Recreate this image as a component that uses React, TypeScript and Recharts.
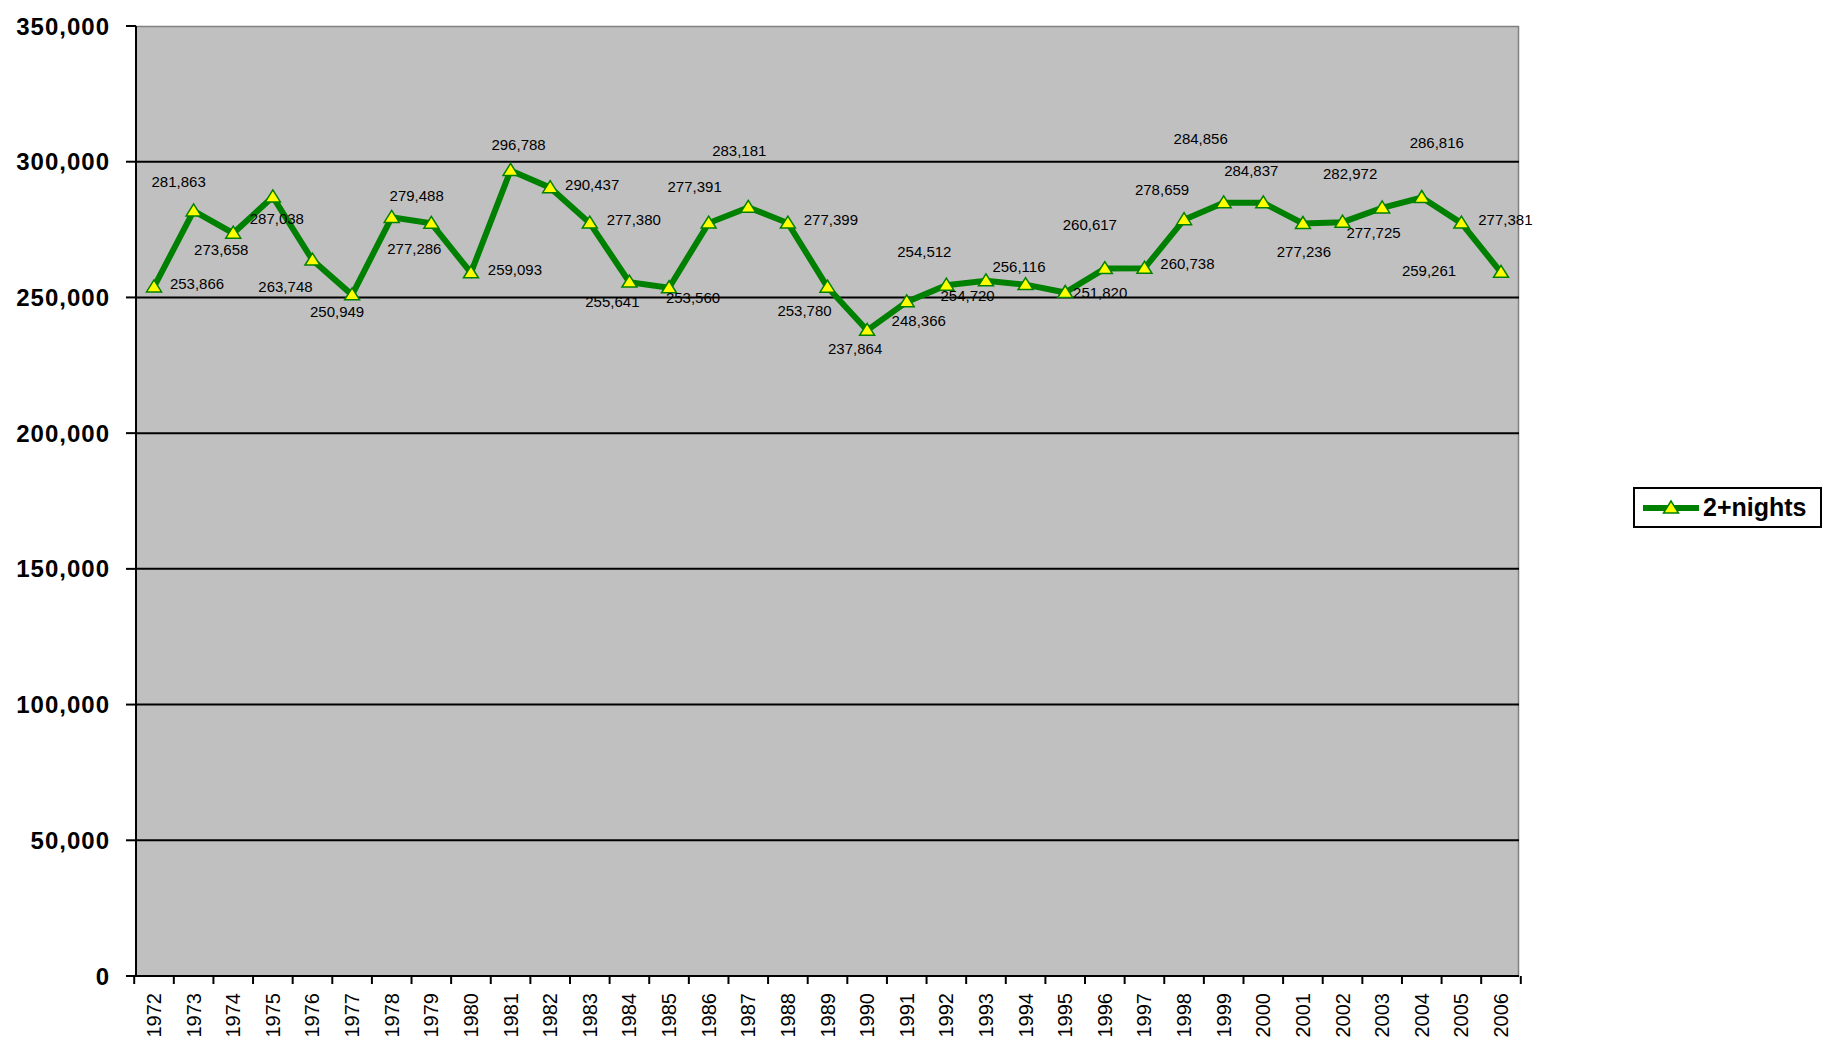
import {
  LineChart,
  Line,
  XAxis,
  YAxis,
  CartesianGrid,
  ReferenceLine,
  LabelList,
} from "recharts";

const YEARS = [
  "1972", "1973", "1974", "1975", "1976", "1977", "1978", "1979", "1980",
  "1981", "1982", "1983", "1984", "1985", "1986", "1987", "1988", "1989",
  "1990", "1991", "1992", "1993", "1994", "1995", "1996", "1997", "1998",
  "1999", "2000", "2001", "2002", "2003", "2004", "2005", "2006",
];

const NIGHTS = [
  253866, 281863, 273658, 287038, 263748, 250949, 279488, 277286, 259093,
  296788, 290437, 277380, 255641, 253560, 277391, 283181, 277399, 253780,
  237864, 248366, 254512, 256116, 254720, 251820, 260617, 260738, 278659,
  284856, 284837, 277236, 277725, 282972, 286816, 277381, 259261,
];

const Y_TICKS = [0, 50000, 100000, 150000, 200000, 250000, 300000, 350000];
const GRID_LINES = [50000, 100000, 150000, 200000, 250000, 300000];

// where each value label sits relative to its point (the original has them scattered)
const LABEL_OFFSETS: [number, number][] = [
  [43, -3], [-15, -29], [-12, 16], [4, 22], [-27, 26], [-15, 17], [25, -22],
  [-17, 25], [44, -3], [8, -26], [42, -3], [44, -4], [-17, 19], [24, 10],
  [-14, -37], [-9, -57], [43, -4], [-23, 23], [-12, 18], [12, 19], [-22, -34],
  [33, -14], [-58, 11], [35, 0], [-15, -44], [43, -5], [-22, -30], [-23, -64],
  [-12, -32], [1, 28], [31, 10], [-32, -34], [15, -55], [44, -4], [-72, -2],
];

const data = YEARS.map((year, i) => ({ year, nights: NIGHTS[i] }));

const GREEN = "#008000";
const HALF_BAND = 19.8;
const FONT = "'Liberation Sans', Arial, sans-serif";

const fmt = (v: number) => v.toLocaleString("en-US");

function Triangle({ cx, cy }: { cx?: number; cy?: number }) {
  if (cx == null || cy == null) return null;
  return (
    <path
      d={`M${cx},${cy - 7} L${cx - 7.5},${cy + 5} L${cx + 7.5},${cy + 5} Z`}
      fill="#FFFF00"
      stroke={GREEN}
      strokeWidth={1.5}
    />
  );
}

function YearTick(props: any) {
  const { x, y, payload, index } = props;
  const last = index === YEARS.length - 1;
  return (
    <g>
      <line x1={x - HALF_BAND} y1={y} x2={x - HALF_BAND} y2={y + 8} stroke="#000" strokeWidth={2} />
      {last && (
        <line x1={x + HALF_BAND} y1={y} x2={x + HALF_BAND} y2={y + 8} stroke="#000" strokeWidth={2} />
      )}
      <text
        transform={`translate(${x},${y + 17}) rotate(-90)`}
        textAnchor="end"
        dominantBaseline="central"
        fontSize={20}
        fontFamily={FONT}
        fill="#000"
      >
        {payload.value}
      </text>
    </g>
  );
}

function ValueLabel(props: any) {
  const { x, y, index, value } = props;
  const [dx, dy] = LABEL_OFFSETS[index] || [0, -15];
  return (
    <text
      x={x + dx}
      y={y + dy}
      textAnchor="middle"
      dominantBaseline="central"
      fontSize={15}
      fontFamily={FONT}
      fill="#000"
    >
      {fmt(value)}
    </text>
  );
}

function LegendBox() {
  return (
    <div
      style={{
        position: "absolute",
        left: 1633,
        top: 487,
        boxSizing: "border-box",
        width: 189,
        height: 41,
        border: "2px solid #000",
        background: "#fff",
        display: "flex",
        alignItems: "center",
        paddingLeft: 6,
        fontFamily: FONT,
      }}
    >
      <svg width={60} height={20}>
        <line x1={2} y1={10} x2={58} y2={10} stroke={GREEN} strokeWidth={6} />
        <Triangle cx={30} cy={10} />
      </svg>
      <span style={{ fontSize: 25, fontWeight: "bold", marginLeft: 2, color: "#000" }}>
        2+nights
      </span>
    </div>
  );
}

export default function App() {
  return (
    <div style={{ position: "absolute", left: 0, top: 0, width: 1825, height: 1045, background: "#fff", fontFamily: FONT }}>
      <LineChart
        width={1825}
        height={1045}
        data={data}
        margin={{ top: 26, right: 306, bottom: 0, left: 0 }}
      >
        <CartesianGrid
          fill="#C0C0C0"
          stroke="#808080"
          strokeWidth={1.5}
          horizontalPoints={[26.5]}
          verticalPoints={[1518.5]}
        />
        {GRID_LINES.map((v) => (
          <ReferenceLine key={v} y={v} stroke="#000" strokeWidth={2} />
        ))}
        <XAxis
          dataKey="year"
          height={69}
          padding={{ left: 18, right: 18 }}
          interval={0}
          tickSize={0}
          tickMargin={0}
          tickLine={false}
          axisLine={{ stroke: "#000", strokeWidth: 2 }}
          tick={<YearTick />}
        />
        <YAxis
          width={136}
          domain={[0, 350000]}
          ticks={Y_TICKS}
          interval={0}
          tickFormatter={fmt}
          tickSize={10}
          tickMargin={16}
          axisLine={{ stroke: "#000", strokeWidth: 2 }}
          tickLine={{ stroke: "#000", strokeWidth: 2 }}
          tick={{ fontSize: 24, fontWeight: "bold", fill: "#000", fontFamily: FONT, letterSpacing: 1 }}
        />
        <Line
          type="linear"
          dataKey="nights"
          name="2+nights"
          stroke={GREEN}
          strokeWidth={6}
          isAnimationActive={false}
          dot={(p: any) => <Triangle key={`dot-${p.index}`} cx={p.cx} cy={p.cy} />}
          activeDot={false}
        >
          <LabelList dataKey="nights" content={<ValueLabel />} />
        </Line>
      </LineChart>
      <LegendBox />
    </div>
  );
}
